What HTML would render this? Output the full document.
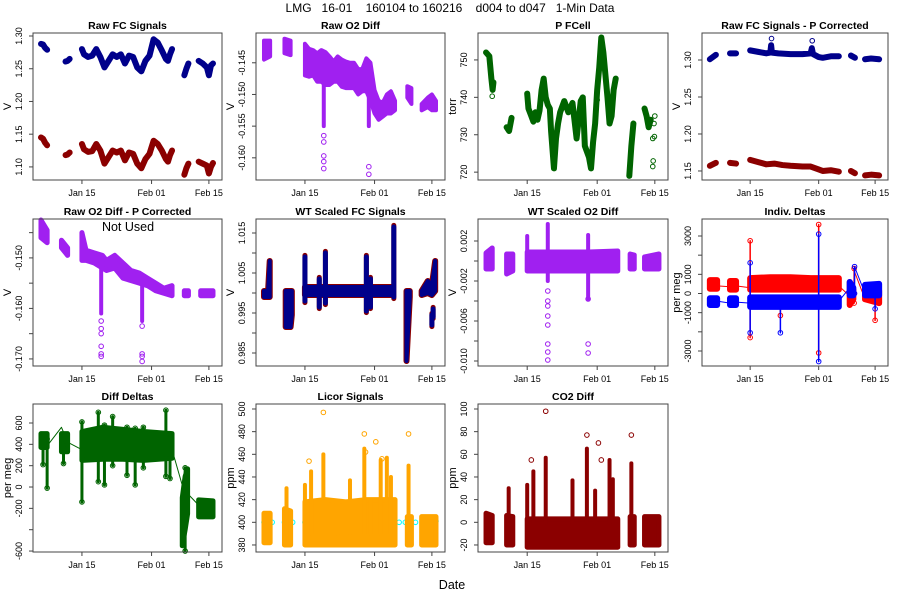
<!DOCTYPE html>
<html><head><meta charset="utf-8"><style>
html,body{margin:0;padding:0;background:#fff;}
svg{display:block;font-family:"Liberation Sans",sans-serif;}
</style></head><body>
<svg id="chart" width="900" height="600" xmlns="http://www.w3.org/2000/svg">
<text x="450" y="12" text-anchor="middle" font-size="12" xml:space="preserve">LMG   16-01    160104 to 160216    d004 to d047   1-Min Data</text>
<text x="452" y="589" text-anchor="middle" font-size="12.5">Date</text>
</svg>
<script>
// ---- data: x values are day-of-year (Jan d = d, Feb d = 31+d) ----
const xTickDays = [15, 32, 46];
const xTickLabels = ['Jan 15', 'Feb 01', 'Feb 15'];

// P1 Raw FC Signals
const p1Blue = [[[5,1.288],[5.5,1.287],[6,1.282],[6.5,1.279]],[[11,1.261],[11.5,1.262],[12,1.265]],
 [[15,1.280],[15.5,1.272],[16.5,1.268],[17.5,1.270],[18.5,1.280],[19.5,1.268],[20.5,1.252],[21.5,1.262],[22.5,1.272],[23.5,1.268],[24.5,1.272],[25.5,1.258],[26.5,1.270],[27.5,1.268],[28.5,1.252],[29.5,1.246],[30.5,1.262],[31.5,1.270],[32.5,1.295],[33.5,1.290],[34.5,1.278],[35.5,1.265],[36,1.262],[36.5,1.272],[37,1.280]],
 [[40,1.240],[40.5,1.250],[41,1.258]],[[43.5,1.262],[44.5,1.258],[45.5,1.252],[46,1.240],[46.5,1.255],[47,1.258]]];
const p1Red = [[[5,1.145],[5.5,1.143],[6,1.137],[6.5,1.133]],[[11,1.118],[11.5,1.119],[12,1.122]],
 [[15,1.135],[15.5,1.127],[16.5,1.123],[17.5,1.124],[18.5,1.135],[19.5,1.125],[20.5,1.105],[21.5,1.115],[22.5,1.125],[23.5,1.122],[24.5,1.125],[25.5,1.110],[26.5,1.122],[27.5,1.120],[28.5,1.105],[29.5,1.098],[30.5,1.112],[31.5,1.120],[32.5,1.140],[33.5,1.135],[34.5,1.125],[35.5,1.112],[36,1.108],[36.5,1.118],[37,1.125]],
 [[40,1.088],[40.5,1.098],[41,1.105]],[[43.5,1.108],[44.5,1.105],[45.5,1.102],[46,1.090],[46.5,1.100],[47,1.106]]];

// P2 Raw O2 Diff  [day, lo, hi]
const p2Band = [[[5,-0.1445,-0.1415],[6.5,-0.1440,-0.1415]],[[10,-0.1435,-0.1412],[11.5,-0.1438,-0.1415]],
 [[15,-0.147,-0.142],[16,-0.1472,-0.1428],[17,-0.147,-0.143],[18,-0.148,-0.1435],[19,-0.148,-0.143],[20,-0.1485,-0.1433],[21,-0.1485,-0.144],[22,-0.148,-0.1448],[23,-0.148,-0.144],[24,-0.1488,-0.1445],[25,-0.149,-0.1448],[26,-0.149,-0.145],[27,-0.149,-0.145],[28,-0.150,-0.146],[29,-0.1495,-0.146],[30,-0.1495,-0.1443],[31,-0.151,-0.145],[32,-0.153,-0.1493],[33,-0.154,-0.151],[34,-0.1535,-0.1513],[35,-0.153,-0.150],[36,-0.153,-0.1495],[37,-0.1525,-0.151]],
 [[40,-0.1505,-0.1487],[41,-0.1515,-0.149]],[[43.5,-0.1525,-0.1515],[45,-0.152,-0.1505],[46,-0.1525,-0.150],[47,-0.1525,-0.151]]];
const p2Spikes = [[19.6,-0.155,-0.146],[30.6,-0.155,-0.146]];
const p2Outliers = [[19.6,-0.1565],[19.6,-0.1575],[19.6,-0.1597],[19.6,-0.1606],[19.6,-0.1617],[30.6,-0.1614],[30.6,-0.1626]];

// P3 P FCell (torr)
const p3Line = [[[5,752],[5.8,751],[6.3,745],[6.6,742],[6.8,744]],[[10,732],[10.6,731],[11.2,734.5]],
 [[15,741],[15.3,737],[16,735],[16.5,733.5],[17,736],[17.5,734],[18,736.5],[18.5,742],[19,745],[19.5,740],[20,738],[20.5,737],[20.8,731],[21.5,721],[22,729],[22.5,733],[23,736],[24,739],[25,736],[26,738.5],[27,729],[28,739],[28.5,740],[29,727],[30,724],[30.5,721],[31,728],[31.5,733],[32,742],[32.5,748],[33,756],[33.5,752],[34,746],[34.5,740],[35,733],[35.5,735],[36,742],[36.5,745]],
 [[39.8,719],[40.3,727],[40.8,733]],[[43.5,737],[44,735],[44.5,732],[45,734]]];
const p3Outliers = [[6.5,740.3],[32,739.3],[45.5,729],[45.6,723],[45.5,721.5],[45.8,733],[46,735],[45.9,729.5]];

// P4 Raw FC Signals - P Corrected
const p4Blue = [[[5,1.301],[6.5,1.307]],[[10,1.309],[11.5,1.309]],
 [[15,1.313],[17,1.311],[19,1.309],[20,1.310],[20.2,1.320],[20.4,1.310],[22,1.309],[25,1.308],[28,1.308],[30,1.309],[30.3,1.316],[30.6,1.308],[32,1.304],[33,1.303],[35,1.305],[37,1.305]],
 [[40,1.306],[41,1.303]],[[43.5,1.301],[45,1.302],[47,1.301]]];
const p4BlueOutliers = [[20.3,1.329],[30.4,1.326]];
const p4Red = [[[5,1.157],[6.5,1.161]],[[10,1.161],[11.5,1.160]],
 [[15,1.165],[17,1.162],[19,1.159],[21,1.160],[23,1.158],[25,1.157],[28,1.156],[30,1.156],[32,1.152],[33,1.150],[35,1.151],[37,1.149]],
 [[40,1.150],[41,1.147]],[[43.5,1.144],[45,1.145],[47,1.144]]];

// P5 Raw O2 Diff - P Corrected
const p5Band = [[[5,-0.146,-0.1425],[6.5,-0.147,-0.1445]],[[10,-0.148,-0.1465],[11.5,-0.1495,-0.148]],
 [[15,-0.1505,-0.145],[16,-0.1505,-0.1485],[18,-0.151,-0.149],[20,-0.152,-0.1495],[21,-0.1525,-0.1505],[23,-0.152,-0.1495],[25,-0.154,-0.151],[27,-0.1545,-0.1525],[29,-0.155,-0.153],[31,-0.1555,-0.154],[33,-0.1565,-0.155],[35,-0.157,-0.156],[37,-0.1575,-0.1555]],
 [[40,-0.1575,-0.1565],[41,-0.1575,-0.1565]],[[44,-0.1575,-0.1565],[47,-0.1575,-0.1565]]];
const p5Spikes = [[19.7,-0.161,-0.151],[29.7,-0.1625,-0.154]];
const p5Outliers = [[19.7,-0.1625],[19.7,-0.164],[19.7,-0.165],[19.7,-0.1675],[19.7,-0.169],[19.7,-0.1695],[29.7,-0.1635],[29.7,-0.169],[29.7,-0.1705],[29.7,-0.1695]];

// P6 WT Scaled FC Signals
const p6Band = [[[5,0.999,1.0005],[6,0.999,1.0005],[6.4,0.999,1.008]],[[10.3,0.9915,1.0005],[11.5,0.9915,1.0005],[11.8,0.9945,1.0005]],
 [[15,0.9995,1.0015],[20,0.9995,1.0015],[25,0.9995,1.0015],[30,0.9995,1.0015],[36.5,0.9995,1.0015]],
 [[39.8,0.9830,1.0005],[40.6,0.999,1.0005]],[[43.5,0.9995,1.0005],[45,1.0,1.003],[46,0.9995,1.002],[46.8,1.0005,1.008]]];
const p6Spikes = [[15,0.998,1.009],[18.5,0.9965,1.0035],[20,0.9975,1.010],[30,0.9955,1.009],[31,0.9965,1.0035],[36.7,0.999,1.0165],[46,0.992,0.9945],[46.3,0.994,0.996]];

// P7 WT Scaled O2 Diff
const p7Band = [[[5,-0.0008,0.0008],[6.5,-0.0008,0.0013]],[[10,-0.0013,0.0007],[11.5,-0.0010,0.0007]],
 [[15,-0.0010,0.0009],[20,-0.0010,0.0009],[25,-0.0010,0.0009],[30,-0.0010,0.0009],[37,-0.0010,0.0010]],
 [[40,-0.0008,0.0007],[41,-0.0008,0.0006]],[[43.5,-0.0008,0.0004],[47,-0.0008,0.0007]]];
const p7Spikes = [[15,-0.0010,0.0025],[20,-0.0020,0.0037],[29.8,-0.0038,0.0026]];
const p7Outliers = [[20,-0.003],[20,-0.004],[20,-0.0045],[20,-0.0055],[20,-0.0064],[20,-0.0083],[20,-0.0091],[20,-0.0099],[29.8,-0.0038],[29.8,-0.0083],[29.8,-0.0092]];

// P8 Indiv. Deltas
const p8RedBand = [[[5,250,700],[6.8,250,700]],[[10,200,650],[11.5,200,650]],[[15,200,800],[20,200,850],[25,200,850],[30,200,800],[37,200,800]],[[39.7,-600,600],[40.6,-300,200]],[[43.5,-300,250],[47,-500,150]]];
const p8BlueBand = [[[5,-600,-250],[6.8,-600,-250]],[[10,-600,-250],[11.5,-600,-250]],[[15,-700,-200],[20,-700,-200],[25,-700,-200],[30,-700,-200],[37,-700,-200]],[[39.7,-100,600],[40.6,-100,300]],[[43.5,-100,450],[47,-100,500]]];
const p8RedLinks = [[[6.8,400],[10,350]],[[11.5,400],[15,300]],[[37,400],[39.5,-100]],[[40.6,1300],[43.5,-300]]];
const p8BlueLinks = [[[6.8,-400],[10,-500]],[[11.5,-450],[15,-500]],[[37,-400],[39.7,300]],[[40.9,1400],[43.5,0]]];
const p8RedSpikes = [[15,-2300,2750],[22.5,-1150,-200],[32,-3100,3600],[40.8,-500,1300],[46,-1400,-300]];
const p8BlueSpikes = [[15,-2050,1600],[22.5,-2050,-200],[32,-3550,3100],[40.9,0,1400],[46,-800,0]];

// P9 Diff Deltas
const p9Band = [[[5,370,500],[6.5,370,500]],[[10,330,500],[11.5,330,500]],[[15,250,520],[20,260,560],[25,260,540],[30,250,520],[37,270,500]],[[39.5,-550,-100],[40.2,-400,100],[40.8,-250,170]],[[43.5,-280,-120],[47,-280,-130]]];
const p9Spikes = [[5.5,210,480],[6.5,-10,450],[10.5,220,400],[15,-140,610],[19,50,700],[20.5,20,580],[22.5,200,660],[26,110,560],[28,20,550],[30,180,560],[35.5,100,720],[36.5,80,500],[40.2,-600,180]];
const p9Links = [[[6.8,400],[10,560],[11.5,420],[15,350]],[[37,350],[40,-50]],[[41,-70],[43.5,-170]]];

// P10 Licor Signals
const p10Band = [[[5,382,408],[6.5,382,408]],[[10,380,412],[11.5,380,410]],[[15,380,418],[20,380,420],[25,380,418],[30,380,420],[37,380,420]],[[40,380,405],[41,380,405]],[[43.5,380,405],[47,380,405]]];
const p10Spikes = [[10.5,390,430],[15,390,433],[16.5,390,445],[19.5,390,460],[23,390,418],[26,390,437],[29.5,390,465],[31,390,420],[33.5,390,455],[35,390,457],[36,390,440],[40.3,390,450]];
const p10Outliers = [[19.5,497],[29.5,478],[32.3,471],[40.3,478],[16,454],[29.8,462],[33.8,456]];
const p10Cyan = [[5,400],[7,400],[10,400],[12,400],[15,400],[22,399],[30,400],[38,400],[39.5,400],[42,400],[44,401],[46,400],[47,401]];

// P11 CO2 Diff
const p11Band = [[[5,-18,8],[6.5,-18,6]],[[10,-20,6],[11.5,-20,5]],[[15,-22,3],[20,-22,3],[25,-22,3],[30,-22,3],[37,-22,3]],[[40,-20,5],[41,-20,5]],[[43.5,-20,5],[47,-20,5]]];
const p11Spikes = [[10.5,0,30],[15,0,33],[16.5,0,45],[19.5,0,57],[26,0,37],[29.5,0,65],[31.5,0,28],[35,0,55],[35.8,0,38],[40.3,0,52]];
const p11Outliers = [[19.5,98],[29.5,77],[32.3,70],[40.3,77],[16,55],[33,55]];

// ---- layout ----
const NS = 'http://www.w3.org/2000/svg';
const svg = document.getElementById('chart');
const X0 = 3.05, X1 = 49.2;
function el(tag, attrs, parent) {
  const e = document.createElementNS(NS, tag);
  for (const k in attrs) e.setAttribute(k, attrs[k]);
  (parent || svg).appendChild(e);
  return e;
}
function makePanel(o) {
  const g = el('g', {});
  
  
  const xs = d => o.l + (d - X0) / (X1 - X0) * (o.r - o.l);
  const ys = v => o.b - (v - o.y0) / (o.y1 - o.y0) * (o.b - o.t);
  const plot = el('g', {}, g);
  
  
  o.draw(plot, xs, ys);
  const box = el('rect', {x: o.l, y: o.t, width: o.r - o.l, height: o.b - o.t, fill: 'none', stroke: '#444', 'stroke-width': 1}, g);
  
  
  const tt = el('text', {x: (o.l + o.r) / 2, y: o.t - 4, 'text-anchor': 'middle', 'font-size': 10.5, 'font-weight': 'bold'}, g);
  tt.textContent = o.title;
  
  
  const xa = el('g', {}, g);
  
  
  el('line', {x1: xs(xTickDays[0]), x2: xs(xTickDays[xTickDays.length - 1]), y1: o.b, y2: o.b, stroke: '#444'}, xa);
  xTickDays.forEach((d, i) => {
    el('line', {x1: xs(d), x2: xs(d), y1: o.b, y2: o.b + 4, stroke: '#444'}, xa);
    const t = el('text', {x: xs(d), y: o.b + 16, 'text-anchor': 'middle', 'font-size': 9}, xa);
    t.textContent = xTickLabels[i];
  });
  const ya = el('g', {}, g);
  
  
  const tv = o.ticks;
  el('line', {x1: o.l, x2: o.l, y1: ys(tv[0]), y2: ys(tv[tv.length - 1]), stroke: '#444'}, ya);
  tv.forEach(v => {
    el('line', {x1: o.l - 4, x2: o.l, y1: ys(v), y2: ys(v), stroke: '#444'}, ya);
  });
  o.labels.forEach((lab, i) => {
    const yy = ys(o.labelVals[i]);
    const t = el('text', {x: o.l - 11, y: yy, 'text-anchor': 'middle', 'font-size': 9, transform: `rotate(-90 ${o.l - 11} ${yy})`}, ya);
    t.textContent = lab;
  });
  const yt = el('text', {x: o.l - 22, y: (o.t + o.b) / 2, 'text-anchor': 'middle', 'font-size': 11, transform: `rotate(-90 ${o.l - 22} ${(o.t + o.b) / 2})`}, g);
  yt.textContent = o.ylab;
  
  
  return g;
}
function lines(p, segs, xs, ys, col, w) {
  segs.forEach(s => {
    const pl = el('polyline', {points: s.map(q => xs(q[0]) + ',' + ys(q[1])).join(' '), fill: 'none', stroke: col, 'stroke-width': w, 'stroke-linejoin': 'round', 'stroke-linecap': 'round'}, p);
    
    
  });
}
function bands(p, segs, xs, ys, col, w) {
  segs.forEach(s => {
    const top = s.map(q => xs(q[0]) + ',' + ys(q[2]));
    const bot = s.slice().reverse().map(q => xs(q[0]) + ',' + ys(q[1]));
    const pg = el('polygon', {points: top.concat(bot).join(' '), fill: col, stroke: col, 'stroke-width': w, 'stroke-linejoin': 'round'}, p);
    
    
  });
}
function spikes(p, arr, xs, ys, col, w) {
  arr.forEach(q => {
    const ln = el('line', {x1: xs(q[0]), x2: xs(q[0]), y1: ys(q[1]), y2: ys(q[2]), stroke: col, 'stroke-width': w, 'stroke-linecap': 'round'}, p);
    
    
  });
}
function pts(p, arr, xs, ys, col) {
  arr.forEach(q => {
    const c = el('circle', {cx: xs(q[0]), cy: ys(q[1]), r: 2.3, fill: 'none', stroke: col, 'stroke-width': 1}, p);
    
    
  });
}
const NAVY = '#00008B', DRED = '#8B0000', PURP = '#A020F0', DGRN = '#006400', ORNG = '#FFA500';
const cols = [33, 256, 478, 702], colR = [222, 445, 668, 888];
const rowT = [33, 219, 404], rowB = [180, 366, 552];

makePanel({name: 'raw-fc-signals', title: 'Raw FC Signals', ylab: 'V', l: cols[0], r: colR[0], t: rowT[0], b: rowB[0], y0: 1.080, y1: 1.3046,
  ticks: [1.10, 1.15, 1.20, 1.25, 1.30], labelVals: [1.10, 1.15, 1.20, 1.25, 1.30], labels: ['1.10', '1.15', '1.20', '1.25', '1.30'],
  draw: (p, xs, ys) => { lines(p, p1Blue, xs, ys, NAVY, 6); lines(p, p1Red, xs, ys, DRED, 6); }});
makePanel({name: 'raw-o2-diff', title: 'Raw O2 Diff', ylab: 'V', l: cols[1], r: colR[1], t: rowT[0], b: rowB[0], y0: -0.1635, y1: -0.1403,
  ticks: [-0.160, -0.155, -0.150, -0.145], labelVals: [-0.160, -0.155, -0.150, -0.145], labels: ['-0.160', '-0.155', '-0.150', '-0.145'],
  draw: (p, xs, ys) => { bands(p, p2Band, xs, ys, PURP, 4); spikes(p, p2Spikes, xs, ys, PURP, 4); pts(p, p2Outliers, xs, ys, PURP); }});
makePanel({name: 'p-fcell', title: 'P FCell', ylab: 'torr', l: cols[2], r: colR[2], t: rowT[0], b: rowB[0], y0: 717.9, y1: 757.2,
  ticks: [720, 730, 740, 750], labelVals: [720, 730, 740, 750], labels: ['720', '730', '740', '750'],
  draw: (p, xs, ys) => { lines(p, p3Line, xs, ys, DGRN, 6); pts(p, p3Outliers, xs, ys, DGRN); }});
makePanel({name: 'raw-fc-p-corrected', title: 'Raw FC Signals - P Corrected', ylab: 'V', l: cols[3], r: colR[3], t: rowT[0], b: rowB[0], y0: 1.1378, y1: 1.3365,
  ticks: [1.15, 1.20, 1.25, 1.30], labelVals: [1.15, 1.20, 1.25, 1.30], labels: ['1.15', '1.20', '1.25', '1.30'],
  draw: (p, xs, ys) => { lines(p, p4Blue, xs, ys, NAVY, 6); pts(p, p4BlueOutliers, xs, ys, NAVY); lines(p, p4Red, xs, ys, DRED, 6); }});

makePanel({name: 'raw-o2-p-corrected', title: 'Raw O2 Diff - P Corrected', ylab: 'V', l: cols[0], r: colR[0], t: rowT[1], b: rowB[1], y0: -0.1714, y1: -0.1423,
  ticks: [-0.170, -0.165, -0.160, -0.155, -0.150, -0.145], labelVals: [-0.170, -0.160, -0.150], labels: ['-0.170', '-0.160', '-0.150'],
  draw: (p, xs, ys) => { bands(p, p5Band, xs, ys, PURP, 5); spikes(p, p5Spikes, xs, ys, PURP, 4); pts(p, p5Outliers, xs, ys, PURP); }});
const nu = el('text', {x: 128, y: 231, 'text-anchor': 'middle', 'font-size': 12.5});
nu.textContent = 'Not Used';


makePanel({name: 'wt-scaled-fc-signals', title: 'WT Scaled FC Signals', ylab: 'V', l: cols[1], r: colR[1], t: rowT[1], b: rowB[1], y0: 0.98175, y1: 1.0185,
  ticks: [0.985, 0.990, 0.995, 1.000, 1.005, 1.010, 1.015], labelVals: [0.985, 0.995, 1.005, 1.015], labels: ['0.985', '0.995', '1.005', '1.015'],
  draw: (p, xs, ys) => { spikes(p, p6Spikes.map(q => [q[0], q[1] - 0.0004, q[2] + 0.0004]), xs, ys, DRED, 5); bands(p, p6Band, xs, ys, DRED, 6); bands(p, p6Band, xs, ys, NAVY, 4); spikes(p, p6Spikes, xs, ys, NAVY, 5); }});
makePanel({name: 'wt-scaled-o2-diff', title: 'WT Scaled O2 Diff', ylab: 'V', l: cols[2], r: colR[2], t: rowT[1], b: rowB[1], y0: -0.0105, y1: 0.0042,
  ticks: [-0.010, -0.008, -0.006, -0.004, -0.002, 0, 0.002], labelVals: [-0.010, -0.006, -0.002, 0.002], labels: ['-0.010', '-0.006', '-0.002', '0.002'],
  draw: (p, xs, ys) => { bands(p, p7Band, xs, ys, PURP, 5); spikes(p, p7Spikes, xs, ys, PURP, 4); pts(p, p7Outliers, xs, ys, PURP); }});
makePanel({name: 'indiv-deltas', title: 'Indiv. Deltas', ylab: 'per meg', l: cols[3], r: colR[3], t: rowT[1], b: rowB[1], y0: -3783, y1: 3887,
  ticks: [-3000, -2000, -1000, 0, 1000, 2000, 3000], labelVals: [-3000, -1000, 0, 1000, 3000], labels: ['-3000', '-1000', '0', '1000', '3000'],
  draw: (p, xs, ys) => {
    lines(p, p8RedLinks, xs, ys, '#FF0000', 1); spikes(p, p8RedSpikes, xs, ys, '#FF0000', 1.5); bands(p, p8RedBand, xs, ys, '#FF0000', 6);
    pts(p, p8RedSpikes.map(q => [q[0], q[1]]), xs, ys, '#FF0000'); pts(p, p8RedSpikes.map(q => [q[0], q[2]]), xs, ys, '#FF0000');
    lines(p, p8BlueLinks, xs, ys, '#0000FF', 1); spikes(p, p8BlueSpikes, xs, ys, '#0000FF', 1.5); bands(p, p8BlueBand, xs, ys, '#0000FF', 6);
    pts(p, p8BlueSpikes.map(q => [q[0], q[1]]), xs, ys, '#0000FF'); pts(p, p8BlueSpikes.map(q => [q[0], q[2]]), xs, ys, '#0000FF');
  }});

makePanel({name: 'diff-deltas', title: 'Diff Deltas', ylab: 'per meg', l: cols[0], r: colR[0], t: rowT[2], b: rowB[2], y0: -609, y1: 778,
  ticks: [-600, -400, -200, 0, 200, 400, 600], labelVals: [-600, -200, 0, 200, 400, 600], labels: ['-600', '-200', '0', '200', '400', '600'],
  draw: (p, xs, ys) => { lines(p, p9Links, xs, ys, DGRN, 1); bands(p, p9Band, xs, ys, DGRN, 5); spikes(p, p9Spikes, xs, ys, DGRN, 3);
    pts(p, p9Spikes.map(q => [q[0], q[1]]), xs, ys, DGRN); pts(p, p9Spikes.map(q => [q[0], q[2]]), xs, ys, DGRN); }});
makePanel({name: 'licor-signals', title: 'Licor Signals', ylab: 'ppm', l: cols[1], r: colR[1], t: rowT[2], b: rowB[2], y0: 373.8, y1: 504.4,
  ticks: [380, 400, 420, 440, 460, 480, 500], labelVals: [380, 400, 420, 440, 460, 480, 500], labels: ['380', '400', '420', '440', '460', '480', '500'],
  draw: (p, xs, ys) => { pts(p, p10Cyan, xs, ys, '#00FFFF'); bands(p, p10Band, xs, ys, ORNG, 5); spikes(p, p10Spikes, xs, ys, ORNG, 4); pts(p, p10Outliers, xs, ys, ORNG); }});
makePanel({name: 'co2-diff', title: 'CO2 Diff', ylab: 'ppm', l: cols[2], r: colR[2], t: rowT[2], b: rowB[2], y0: -26.2, y1: 104.4,
  ticks: [-20, 0, 20, 40, 60, 80, 100], labelVals: [-20, 0, 20, 40, 60, 80, 100], labels: ['-20', '0', '20', '40', '60', '80', '100'],
  draw: (p, xs, ys) => { bands(p, p11Band, xs, ys, DRED, 5); spikes(p, p11Spikes, xs, ys, DRED, 4); pts(p, p11Outliers, xs, ys, DRED); }});
</script>
</body></html>
